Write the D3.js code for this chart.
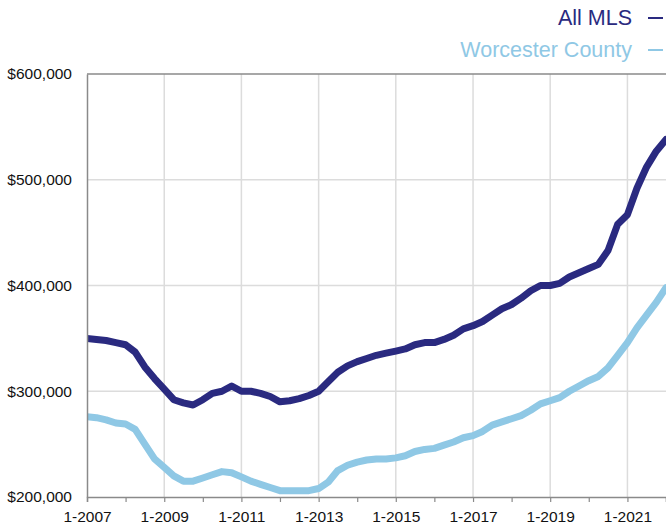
<!DOCTYPE html>
<html>
<head>
<meta charset="utf-8">
<script src="https://cdn.jsdelivr.net/npm/d3@7"></script>
<style>
  body { margin: 0; background: #fff; }
  svg { display: block; font-family: "Liberation Sans", Arial, Helvetica, sans-serif; }
</style>
</head>
<body>
<div id="chart"></div>
<script>
// Quarterly median price, in thousands of dollars, from 1-2007 to 1-2022
var allMls = [
  350, 349, 348, 346, 344, 337, 323, 312,
  302, 292, 289, 287, 292, 298, 300, 305,
  300, 300, 298, 295, 290, 291, 293, 296,
  300, 309, 318, 324, 328, 331, 334, 336,
  338, 340, 344, 346, 346, 349, 353, 359,
  362, 366, 372, 378, 382, 388, 395, 400,
  400, 402, 408, 412, 416, 420, 433, 458,
  467, 492, 512, 527, 538
];
var worcester = [
  276, 275, 273, 270, 269, 264, 250, 236,
  228, 220, 215, 215, 218, 221, 224, 223,
  219, 215, 212, 209, 206, 206, 206, 206,
  208, 214, 225, 230, 233, 235, 236, 236,
  237, 239, 243, 245, 246, 249, 252, 256,
  258, 262, 268, 271, 274, 277, 282, 288,
  291, 294, 300, 305, 310, 314, 322, 334,
  346, 360, 372, 384, 398
];
var seriesNames = ["All MLS", "Worcester County"];
var seriesColors = ["#2a2a80", "#8fc8e5"];
var yTicks = [200000, 300000, 400000, 500000, 600000];
var xLabelYears = [2007, 2009, 2011, 2013, 2015, 2017, 2019, 2021];

// one date per quarter
var dates = d3.timeMonth.every(3).range(new Date(2007, 0, 1), new Date(2022, 0, 2));

var W = 666, H = 527;
var margin = { top: 74, right: 0, bottom: 30, left: 87 };
var width = W - margin.left - margin.right,
    height = H - margin.top - margin.bottom;

var svg = d3.select("#chart").append("svg")
    .attr("width", W)
    .attr("height", H);

var g = svg.append("g")
    .attr("transform", "translate(" + margin.left + "," + margin.top + ")");

var x = d3.scaleTime()
    .domain([new Date(2007, 0, 1), new Date(2022, 0, 1)])
    .range([0, width]);
var y = d3.scaleLinear().domain([200000, 600000]).range([height, 0]);

// gridlines
g.append("g").selectAll("line.h")
    .data(yTicks.slice(1, -1))
    .enter().append("line")
    .attr("x1", 0).attr("x2", width)
    .attr("y1", function(d) { return y(d); })
    .attr("y2", function(d) { return y(d); })
    .attr("stroke", "#dcdcdc").attr("stroke-width", 1.5);

g.append("g").selectAll("line.v")
    .data(xLabelYears.slice(1))
    .enter().append("line")
    .attr("x1", function(d) { return x(new Date(d, 0, 1)); })
    .attr("x2", function(d) { return x(new Date(d, 0, 1)); })
    .attr("y1", 0).attr("y2", height)
    .attr("stroke", "#dcdcdc").attr("stroke-width", 1.5);

// top border
g.append("line")
    .attr("x1", 0).attr("x2", width)
    .attr("y1", y(600000)).attr("y2", y(600000))
    .attr("stroke", "#8a8a8a").attr("stroke-width", 1.5);

// lines
var line = d3.line()
    .x(function(d, i) { return x(dates[i]); })
    .y(function(d) { return y(d * 1000); });

svg.append("clipPath").attr("id", "clip")
    .append("rect").attr("x", 0).attr("y", -10).attr("width", width).attr("height", height + 20);

var lines = g.append("g").attr("clip-path", "url(#clip)");
[allMls, worcester].forEach(function(s, i) {
    lines.append("path")
        .datum(s)
        .attr("d", line)
        .attr("fill", "none")
        .attr("stroke", seriesColors[i])
        .attr("stroke-width", 7)
        .attr("stroke-linejoin", "round")
        .attr("stroke-linecap", "round");
});

// x axis
var xAxis = g.append("g")
    .attr("transform", "translate(0," + height + ")")
    .call(d3.axisBottom(x)
        .ticks(d3.timeYear.every(1))
        .tickSize(5)
        .tickPadding(9)
        .tickFormat(function(d) {
            var yr = d.getFullYear();
            return xLabelYears.indexOf(yr) >= 0 ? "1-" + yr : "";
        }));
xAxis.select(".domain").attr("stroke", "#8a8a8a").attr("stroke-width", 1.5);
xAxis.selectAll(".tick line").attr("stroke", "#8a8a8a").attr("stroke-width", 1.2);
xAxis.selectAll("text").attr("font-size", 15.5).attr("fill", "#111")
    .attr("font-family", "Liberation Sans, Arial, sans-serif");

// y axis
var yAxis = g.append("g")
    .call(d3.axisLeft(y)
        .tickValues(yTicks)
        .tickSize(0)
        .tickPadding(15)
        .tickFormat(function(d) { return "$" + d3.format(",")(d); }));
yAxis.select(".domain").attr("stroke", "#8a8a8a").attr("stroke-width", 1.5);
yAxis.selectAll("text").attr("font-size", 15.5).attr("fill", "#111")
    .attr("font-family", "Liberation Sans, Arial, sans-serif");

// legend
var legend = svg.append("g");
seriesNames.forEach(function(name, i) {
    var ly = 25 + i * 32;
    legend.append("text")
        .attr("x", 632).attr("y", ly)
        .attr("text-anchor", "end")
        .attr("font-size", 21.5)
        .attr("fill", seriesColors[i])
        .text(name);
    legend.append("line")
        .attr("x1", 648).attr("x2", 663)
        .attr("y1", ly - 7).attr("y2", ly - 7)
        .attr("stroke", seriesColors[i])
        .attr("stroke-width", 2);
});
</script>
</body>
</html>
